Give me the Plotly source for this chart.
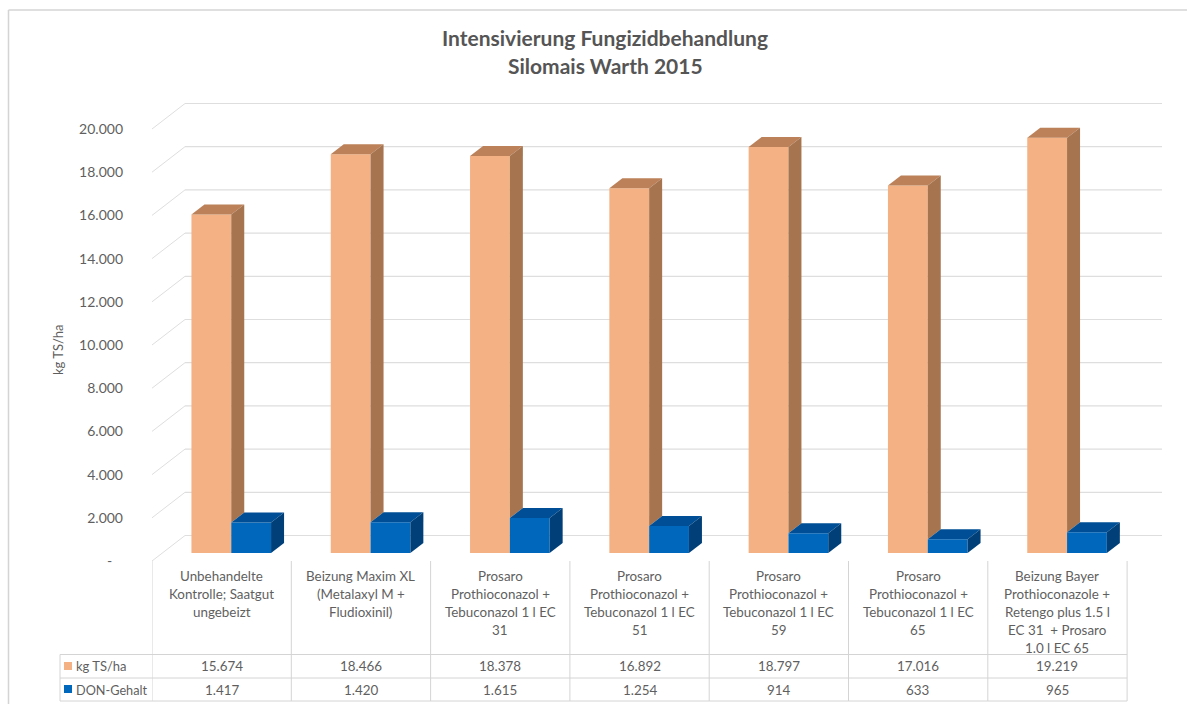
import plotly.graph_objects as go

# ---------- data ----------
categories = [
    "Unbehandelte|Kontrolle; Saatgut|ungebeizt",
    "Beizung Maxim XL|(Metalaxyl M +|Fludioxinil)",
    "Prosaro|Prothioconazol +|Tebuconazol 1 l EC|31",
    "Prosaro|Prothioconazol +|Tebuconazol 1 l EC|51",
    "Prosaro|Prothioconazol +|Tebuconazol 1 l EC|59",
    "Prosaro|Prothioconazol +|Tebuconazol 1 l EC|65",
    "Beizung Bayer|Prothioconazole +|Retengo plus 1.5 l|EC 31  + Prosaro|1.0 l EC 65",
]
series_names = ["kg TS/ha", "DON-Gehalt"]
kg_ts_ha = [15674, 18466, 18378, 16892, 18797, 17016, 19219]
don_gehalt = [1417, 1420, 1615, 1254, 914, 633, 965]
y_ticks = [0, 2000, 4000, 6000, 8000, 10000, 12000, 14000, 16000, 18000, 20000]

# ---------- geometry ----------
W, H = 1187, 704
LEFT, RIGHT, TOP, BOTTOM = 152, 1162, 100, 561
COL = 139.3                    # px per category
UNIT = 2000 / 43.2             # value per px
px_w = RIGHT - LEFT
px_h = BOTTOM - TOP

def px(x):  # page px -> paper x
    return (x - LEFT) / px_w

def py(y):  # page px -> paper y
    return (BOTTOM - y) / px_h

def num(v):
    return "-\u00a0\u00a0\u00a0" if v == 0 else f"{v:,}".replace(",", ".")

idx = list(range(len(categories)))
bar_w = 39.8 / COL
shift = 9.6 / COL
base = 8 * UNIT                # bars stand behind the front edge of the floor
dep_x, dep_y = 13 / COL, 10 * UNIT
wall_x, wall_y = 33 / COL, 25.5 * UNIT

C_O = ("#F4B183", "#BC8159", "#A6754F")
C_B = ("#0068BC", "#004F96", "#003F78")
TXT = "#5f5f5f"
GRID = "#DEDEDE"
TABLE = "#D4D4D4"
FONT = "Lato"

fig = go.Figure()

fig.add_bar(x=idx, y=kg_ts_ha, base=base, width=bar_w, offset=shift - bar_w,
            marker=dict(color=C_O[0], line_width=0), name=series_names[0])
fig.add_bar(x=idx, y=don_gehalt, base=base, width=bar_w, offset=shift,
            marker=dict(color=C_B[0], line_width=0), name=series_names[1])

def poly(xs, ys, color, name):
    fig.add_scatter(x=xs, y=ys, mode="lines", fill="toself", fillcolor=color,
                    line=dict(width=0, color=color), hoverinfo="skip", name=name)

for i, a, b in zip(idx, kg_ts_ha, don_gehalt):
    l0, m0, r0 = i + shift - bar_w, i + shift, i + shift + bar_w
    ta, tb = base + a, base + b
    # orange: top and the part of the side above the blue bar
    poly([l0, m0, m0 + dep_x, l0 + dep_x], [ta, ta, ta + dep_y, ta + dep_y], C_O[1], series_names[0])
    poly([m0, m0 + dep_x, m0 + dep_x, m0], [ta, ta + dep_y, tb + dep_y, tb], C_O[2], series_names[0])
    # blue: top and side
    poly([m0, r0, r0 + dep_x, m0 + dep_x], [tb, tb, tb + dep_y, tb + dep_y], C_B[1], series_names[1])
    poly([r0, r0 + dep_x, r0 + dep_x, r0], [tb, tb + dep_y, base + dep_y, base], C_B[2], series_names[1])

shapes = []
x0 = -0.5
x_end = x0 + px_w / COL

# grid: diagonal on the side wall, horizontal on the back wall
for v in y_ticks:
    shapes.append(dict(type="line", xref="x", yref="y", layer="below",
                       x0=x0, y0=v, x1=x0 + wall_x, y1=v + wall_y,
                       line=dict(color=GRID, width=1)))
    shapes.append(dict(type="line", xref="x", yref="y", layer="below",
                       x0=x0 + wall_x, y0=v + wall_y, x1=x_end, y1=v + wall_y,
                       line=dict(color=GRID, width=1.2)))

# data table
Y_HEAD, Y_R1, Y_R2, Y_R3 = 561, 654.5, 678, 701
for k in range(len(idx) + 1):
    shapes.append(dict(type="line", xref="x", yref="paper", x0=x0 + k, x1=x0 + k,
                       y0=py(Y_HEAD), y1=py(Y_R3), line=dict(color=TABLE, width=1)))
for yy in (Y_R1, Y_R2, Y_R3):
    shapes.append(dict(type="line", xref="paper", yref="paper", x0=px(60), x1=px(LEFT + len(idx) * COL),
                       y0=py(yy), y1=py(yy), line=dict(color=TABLE, width=1)))
shapes.append(dict(type="line", xref="paper", yref="paper", x0=px(60), x1=px(60),
                   y0=py(Y_R1), y1=py(Y_R3), line=dict(color=TABLE, width=1)))
# legend keys in the table
for yy, col in ((666, C_O[0]), (689, C_B[0])):
    shapes.append(dict(type="rect", xref="paper", yref="paper", x0=px(64), x1=px(72),
                       y0=py(yy + 4), y1=py(yy - 4), fillcolor=col, line_width=0))
# chart frame: top and left edges only
for a0, b0, a1, b1 in ((8.5, 10, W, 10), (8.5, 10, 8.5, H)):
    shapes.append(dict(type="line", xref="paper", yref="paper", layer="below",
                       x0=px(a0), x1=px(a1), y0=py(b0), y1=py(b1),
                       line=dict(color="#D4D4D4", width=1.5)))

ann = []
def text(x, y, s, size=13.4, xref="paper", xanchor="center", angle=0, color=TXT):
    ann.append(dict(x=x, y=py(y), xref=xref, yref="paper", text=s, showarrow=False,
                    xanchor=xanchor, yanchor="middle", textangle=angle,
                    font=dict(family=FONT, size=size, color=color)))

for i, c in zip(idx, categories):
    for k, line in enumerate(c.split("|")):
        text(i, 575.5 + 18 * k, line, xref="x")
for i, a, b in zip(idx, kg_ts_ha, don_gehalt):
    text(i, 666, num(a), xref="x")
    text(i, 689.5, num(b), xref="x")
text(px(74), 666, series_names[0], size=13, xanchor="left")
text(px(74), 689.5, series_names[1], size=12.7, xanchor="left")
text(px(58), 350, "kg TS/ha", size=13, angle=-90)
text(px(605), 38, "<b>Intensivierung Fungizidbehandlung</b>", size=21, color="#555555")
text(px(605), 65, "<b>Silomais Warth 2015</b>", size=21, color="#555555")

fig.update_layout(
    width=W, height=H,
    margin=dict(l=LEFT, r=W - RIGHT, t=TOP, b=H - BOTTOM, autoexpand=False),
    paper_bgcolor="white", plot_bgcolor="rgba(0,0,0,0)",
    barmode="overlay", showlegend=False,
    shapes=shapes, annotations=ann,
    xaxis=dict(range=[x0, x_end], visible=False, fixedrange=True),
    yaxis=dict(range=[0, px_h * UNIT], tickvals=y_ticks, ticktext=[num(v) for v in y_ticks],
               showgrid=False, zeroline=False, showline=False, ticks="",
               ticklabelstandoff=28, fixedrange=True,
               tickfont=dict(family=FONT, size=14, color=TXT)),
)

fig.write_html("out.html", config={"displayModeBar": False},
               post_script="document.body.style.margin='0';document.documentElement.style.overflow='hidden';")
